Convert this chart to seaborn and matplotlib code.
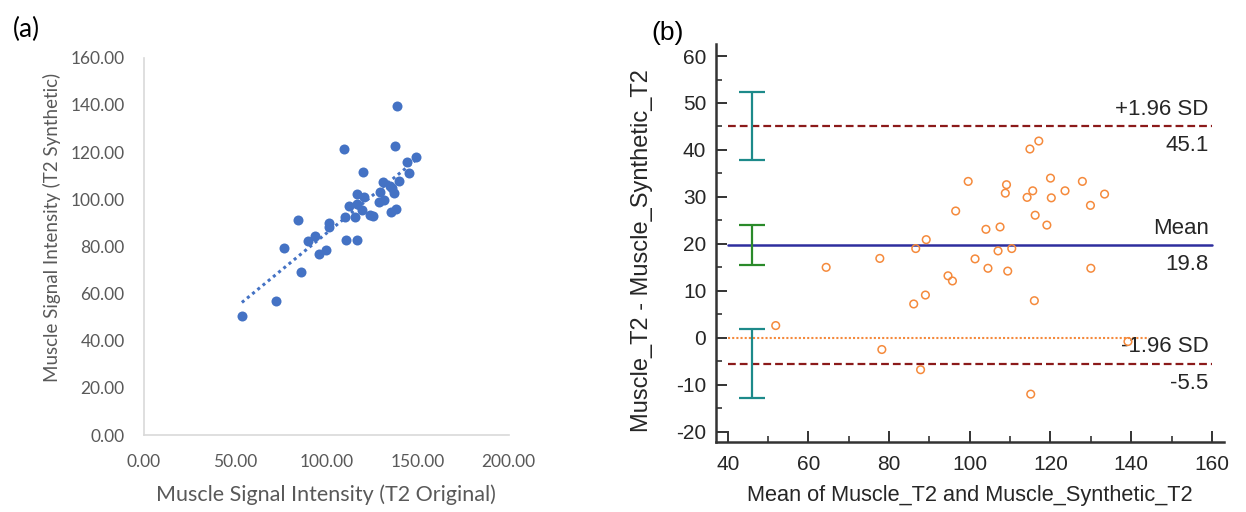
import numpy as np
import matplotlib
matplotlib.use("Agg")
import matplotlib.pyplot as plt
import matplotlib.ticker as mticker
import seaborn as sns

# (a) muscle signal intensity, original vs synthetic T2
t2_original = [53.7, 72.3, 76.9, 84.6, 86.3, 89.9, 94.0, 96.2, 100.0, 101.6, 101.5, 109.5, 110.1,
               110.6, 112.3, 115.9, 116.7, 116.7, 116.8, 119.4, 120.3, 120.5, 124.2, 125.6, 129.3,
               129.1, 131.1, 131.7, 134.8, 135.5, 136.3, 137.4, 137.7, 138.1, 138.8, 139.7, 144.5,
               145.1, 149.1]
t2_synthetic = [50.5, 56.7, 79.2, 91.1, 69.2, 82.3, 84.2, 76.8, 78.6, 89.7, 88.0, 121.2, 92.6,
                82.7, 97.0, 92.5, 102.3, 82.7, 98.0, 95.5, 111.7, 100.8, 93.1, 92.8, 103.0,
                99.0, 107.1, 99.6, 105.8, 94.5, 104.9, 102.8, 122.6, 95.9, 139.6, 107.9, 115.7,
                111.2, 117.7]

# (b) Bland-Altman: mean vs difference
ba_mean = [51.9, 64.4, 77.7, 78.2, 86.1, 86.6, 87.8, 89.0, 89.2, 94.6, 95.7, 96.5, 99.6, 101.3,
           104.0, 104.5, 107.0, 107.5, 108.8, 109.1, 109.4, 110.4, 114.2, 114.9, 115.6, 116.0,
           116.2, 117.1, 115.1, 119.1, 120.0, 120.2, 123.6, 127.9, 129.9, 130.0, 133.4, 139.2]
ba_diff = [2.6, 15.0, 16.9, -2.5, 7.2, 19.0, -6.8, 9.1, 20.9, 13.2, 12.1, 27.0, 33.3, 16.8,
           23.1, 14.8, 18.5, 23.6, 30.8, 32.6, 14.2, 19.0, 29.9, 40.2, 31.3, 7.9,
           26.1, 41.9, -12.0, 24.0, 34.0, 29.8, 31.3, 33.3, 28.2, 14.8, 30.6, -0.8]

loa_values = [45.1, 19.8, -5.5]          # +1.96 SD, mean, -1.96 SD
loa_names = ["+1.96 SD", "Mean", "-1.96 SD"]
loa_ci_half = [7.3, 4.2, 7.3]            # half widths of the CI bars
ci_x = 45.95
zero_span = (40, 144.5)

sns.set_theme(style="white")
plt.rcParams["axes.unicode_minus"] = False

fig = plt.figure(figsize=(12.46, 5.12), dpi=100)

# ---------- (a) ----------
blue = "#4472C4"
grey_txt = "#595959"
fa = "Lato"
ax1 = fig.add_axes([144 / 1246, 77 / 512, 364.6 / 1246, 377.3 / 512])
sns.scatterplot(x=t2_original, y=t2_synthetic, ax=ax1, color=blue, s=52,
                edgecolor=blue, linewidth=0, zorder=3)
sns.regplot(x=np.array(t2_original), y=np.array(t2_synthetic), ax=ax1, scatter=False, ci=None,
            line_kws=dict(color=blue, ls=(0, (1, 1.2)), lw=2.2))
ax1.set_xlim(0, 200)
ax1.set_ylim(0, 160)
ax1.xaxis.set_major_locator(mticker.MultipleLocator(50))
ax1.yaxis.set_major_locator(mticker.MultipleLocator(20))
ax1.xaxis.set_major_formatter(mticker.FormatStrFormatter("%.2f"))
ax1.yaxis.set_major_formatter(mticker.FormatStrFormatter("%.2f"))
ax1.tick_params(length=0, pad=14, labelsize=12.5, labelcolor=grey_txt)
for lab in ax1.get_xticklabels() + ax1.get_yticklabels():
    lab.set_fontfamily(fa)
for side in ["top", "right"]:
    ax1.spines[side].set_visible(False)
for side in ["left", "bottom"]:
    ax1.spines[side].set_color("#D9D9D9")
    ax1.spines[side].set_linewidth(1.2)
ax1.set_xlabel("Muscle Signal Intensity (T2 Original)", fontsize=15.5, color=grey_txt,
               fontfamily=fa)
ax1.set_ylabel("Muscle Signal Intensity (T2 Synthetic)", fontsize=13.5, color=grey_txt,
               fontfamily=fa)
ax1.xaxis.set_label_coords(0.5, -0.132)
ax1.yaxis.set_label_coords(-0.228, 0.55)
fig.text(26 / 1246, 1 - 29 / 512, "(a)", fontsize=19, fontfamily=fa, color="black",
         ha="center", va="center")

# ---------- (b) ----------
fb = "Liberation Sans"
orange = "#F58A3C"
ax2 = fig.add_axes([716 / 1246, 69.7 / 512, 508 / 1246, 398 / 512])
ax2.set_xlim(37.1, 163.0)
ax2.set_ylim(-22.26, 62.5)

ax2.plot(zero_span, [0, 0], color=orange, ls=(0, (1, 1)), lw=1.5, zorder=2)
ax2.plot([40, 160], [loa_values[0]] * 2, color="#8B1A1A", ls=(0, (3.5, 1.8)), lw=1.6)
ax2.plot([40, 160], [loa_values[1]] * 2, color="#2E2E9E", lw=1.8)
ax2.plot([40, 160], [loa_values[2]] * 2, color="#8B1A1A", ls=(0, (3.5, 1.8)), lw=1.6)

ci_colors = ["#1D8A8A", "#2A8A2A", "#1D8A8A"]
for v, h, c in zip(loa_values, loa_ci_half, ci_colors):
    ax2.errorbar([ci_x], [v], yerr=[h], color=c, capsize=9.5, capthick=1.6, elinewidth=1.6,
                 fmt="none", zorder=3)

sns.scatterplot(x=ba_mean, y=ba_diff, ax=ax2, s=30, facecolor="none", edgecolor=orange,
                linewidth=1.1, zorder=4)

for v, name in zip(loa_values, loa_names):
    ax2.text(159.2, v + 1.3, name, ha="right", va="bottom", fontsize=16, fontfamily=fb)
    ax2.text(159.2, v - 1.9, f"{v:.1f}", ha="right", va="top", fontsize=16, fontfamily=fb)

ax2.xaxis.set_major_locator(mticker.MultipleLocator(20))
ax2.xaxis.set_minor_locator(mticker.MultipleLocator(10))
ax2.yaxis.set_major_locator(mticker.MultipleLocator(10))
ax2.yaxis.set_minor_locator(mticker.MultipleLocator(5))
ax2.tick_params(which="major", direction="in", length=8, width=1.4, color="#333333",
                labelsize=15, pad=7, bottom=True, left=True)
ax2.tick_params(which="minor", direction="in", length=4, width=1.2, color="#333333",
                bottom=True, left=True)
ax2.tick_params(axis="x", which="major", pad=9)
for lab in ax2.get_xticklabels() + ax2.get_yticklabels():
    lab.set_fontfamily(fb)
for side in ["top", "right"]:
    ax2.spines[side].set_visible(False)
for side in ["left", "bottom"]:
    ax2.spines[side].set_color("#333333")
    ax2.spines[side].set_linewidth(1.8)
ax2.set_xlabel("Mean of Muscle_T2 and Muscle_Synthetic_T2", fontsize=15.7, fontfamily=fb)
ax2.set_ylabel("Muscle_T2 - Muscle_Synthetic_T2", fontsize=17, fontfamily=fb)
ax2.xaxis.set_label_coords(0.5, -0.107)
ax2.yaxis.set_label_coords(-0.124, 0.483)
fig.text(668 / 1246, 1 - 33 / 512, "(b)", fontsize=19, fontfamily=fb, color="black",
         ha="center", va="center")

fig.savefig("out.png", dpi=100, facecolor="white")
